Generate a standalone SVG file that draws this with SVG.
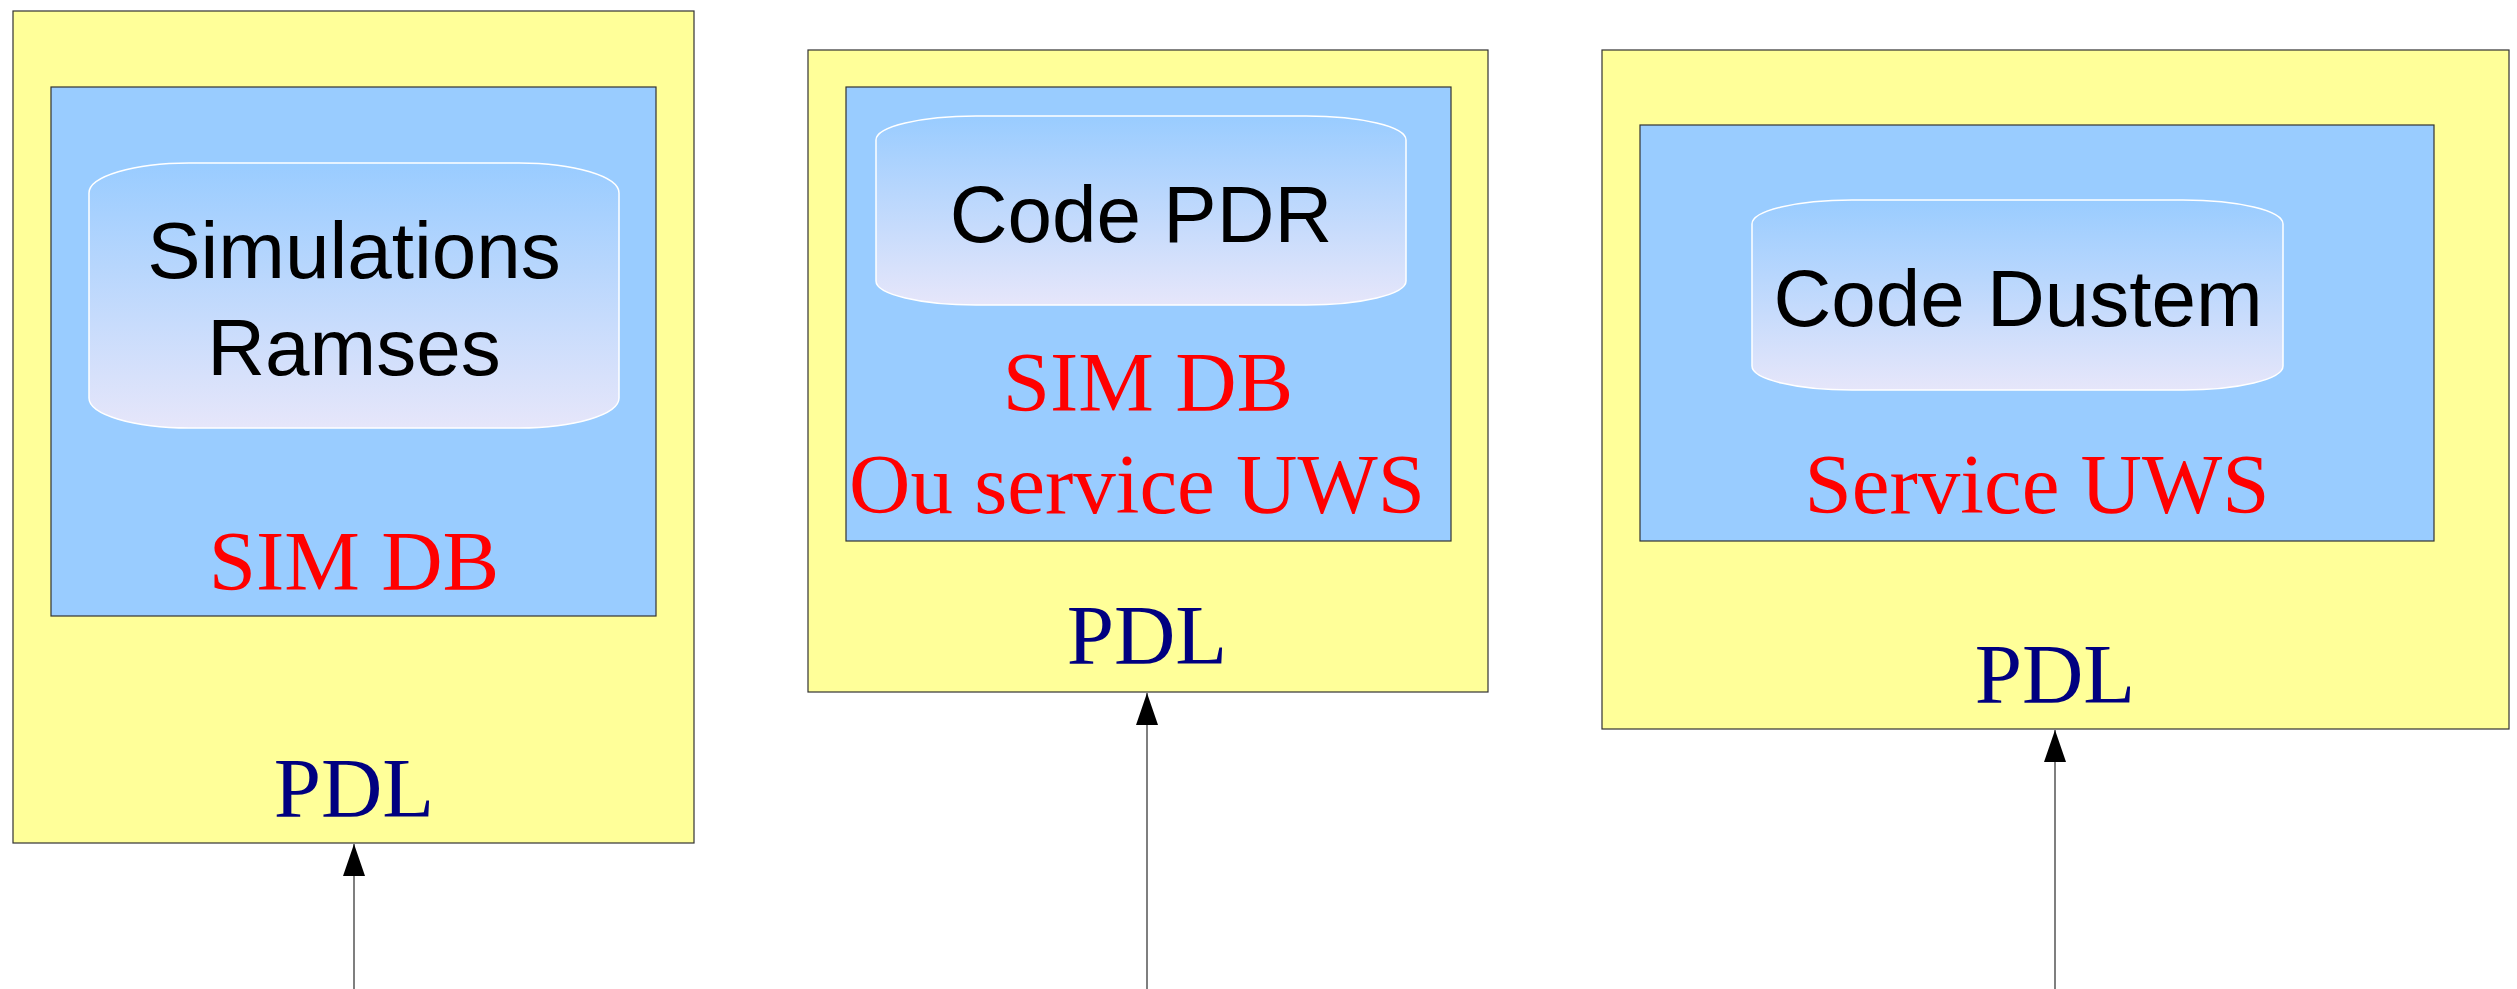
<svg xmlns="http://www.w3.org/2000/svg" width="2517" height="989" viewBox="0 0 2517 989">
<defs>
<linearGradient id="g" x1="0" y1="0" x2="0" y2="1">
<stop offset="0" stop-color="#99ccff"/>
<stop offset="1" stop-color="#e6e6fa"/>
</linearGradient>
<marker id="ah" markerWidth="32" markerHeight="22" refX="32" refY="11" orient="auto" markerUnits="userSpaceOnUse" viewBox="0 0 32 22">
<path d="M0,0 L32,11 L0,22 Z" fill="#000"/>
</marker>
</defs>
<style>
.outer{fill:#ffff99;stroke:#333;stroke-width:1.2}
.inner{fill:#99ccff;stroke:#333;stroke-width:1.2}
.cyl{fill:url(#g);stroke:#fff;stroke-width:1.5}
.code{font-family:"Liberation Sans",Arial,sans-serif;font-size:80px;fill:#000;text-anchor:middle}
.red{font-family:"Liberation Serif","Times New Roman",serif;font-size:85px;fill:#ff0000;text-anchor:middle}
.pdl{font-family:"Liberation Serif","Times New Roman",serif;font-size:85px;fill:#000080;text-anchor:middle}
.conn{stroke:#555;stroke-width:1.5;fill:none;marker-end:url(#ah)}
</style>
<g id="node1">
<rect class="outer" x="13" y="11" width="681" height="832"/>
<rect class="inner" x="51" y="87" width="605" height="529"/>
<path class="cyl" d="M189,163 H519 A100,30 0 0 1 619,193 V398 A100,30 0 0 1 519,428 H189 A100,30 0 0 1 89,398 V193 A100,30 0 0 1 189,163 Z"/>
<text class="code" x="354" y="278">Simulations</text>
<text class="code" x="354" y="375">Ramses</text>
<text class="red" x="354" y="590">SIM DB</text>
<text class="pdl" x="354" y="817">PDL</text>
</g>
<g id="node2">
<rect class="outer" x="808" y="50" width="680" height="642"/>
<rect class="inner" x="846" y="87" width="605" height="454"/>
<path class="cyl" d="M976,116 H1306 A100,24 0 0 1 1406,140 V281 A100,24 0 0 1 1306,305 H976 A100,24 0 0 1 876,281 V140 A100,24 0 0 1 976,116 Z"/>
<text class="code" x="1141" y="242">Code PDR</text>
<text class="red" x="1148" y="411">SIM DB</text>
<text class="red" x="1137" y="513">Ou service UWS</text>
<text class="pdl" x="1147" y="664">PDL</text>
</g>
<g id="node3">
<rect class="outer" x="1602" y="50" width="907" height="679"/>
<rect class="inner" x="1640" y="125" width="794" height="416"/>
<path class="cyl" d="M1852,200 H2183 A100,24 0 0 1 2283,224 V366 A100,24 0 0 1 2183,390 H1852 A100,24 0 0 1 1752,366 V224 A100,24 0 0 1 1852,200 Z"/>
<text class="code" x="2018" y="326">Code Dustem</text>
<text class="red" x="2037" y="513">Service UWS</text>
<text class="pdl" x="2055" y="703">PDL</text>
</g>
<g id="connectors">
<line class="conn" x1="354" y1="989" x2="354" y2="844"/>
<line class="conn" x1="1147" y1="989" x2="1147" y2="693"/>
<line class="conn" x1="2055" y1="989" x2="2055" y2="730"/>
</g>
</svg>
